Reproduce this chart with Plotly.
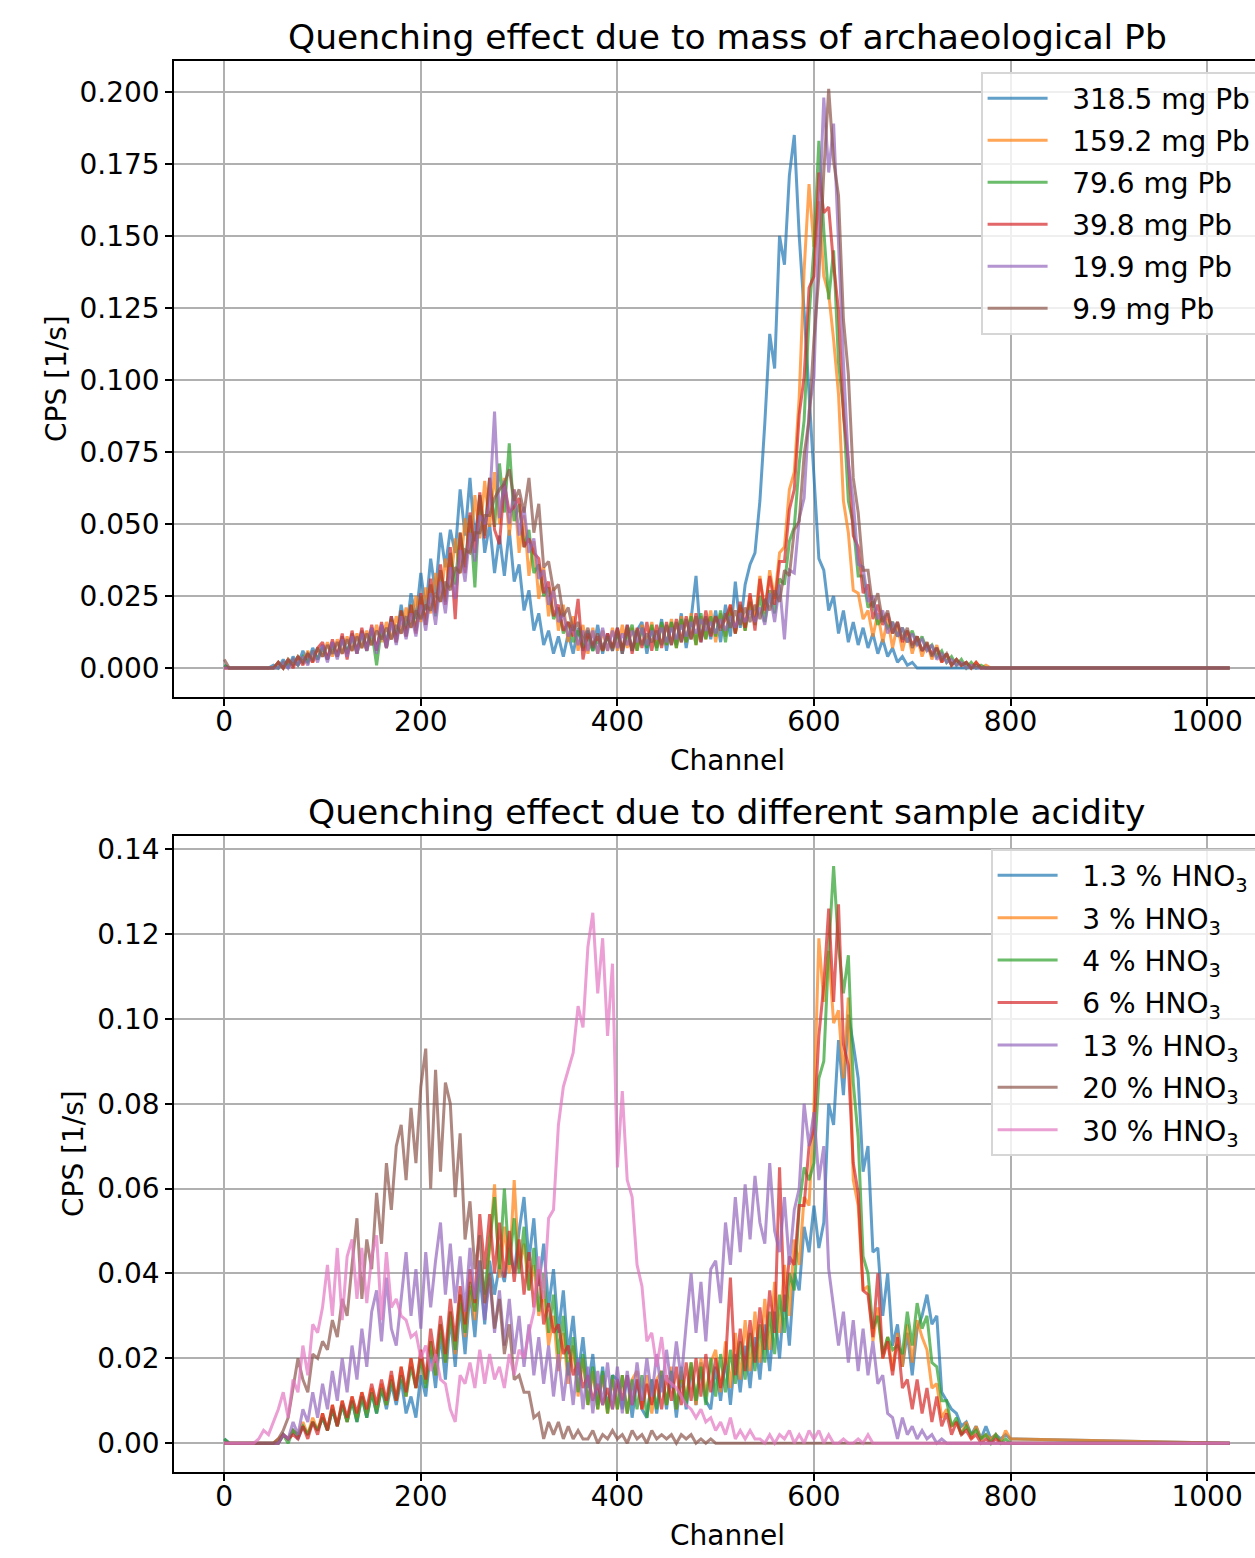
import plotly.graph_objects as go

W, H = 1255, 1558

# ---------------- data ----------------
channels = list(range(0, 805, 5)) + [1023]

# Top panel: mass of archaeological Pb
pb_318_5 = [
    0.001, 0, 0, 0, 0, 0, 0, 0, 0, 0,
    0.001, 0, 0.003, 0, 0.004, 0.001, 0.006, 0.002, 0.007, 0.003,
    0.008, 0.003, 0.009, 0.004, 0.011, 0.005, 0.012, 0.006, 0.013, 0.007,
    0.014, 0.006, 0.015, 0.009, 0.018, 0.010, 0.022, 0.012, 0.026, 0.017,
    0.033, 0.020, 0.038, 0.026, 0.047, 0.035, 0.048, 0.040, 0.062, 0.046,
    0.066, 0.044, 0.060, 0.040, 0.050, 0.033, 0.046, 0.032, 0.048, 0.030,
    0.036, 0.020, 0.027, 0.013, 0.019, 0.008, 0.013, 0.005, 0.011, 0.004,
    0.012, 0.005, 0.014, 0.006, 0.013, 0.006, 0.015, 0.005, 0.012, 0.006,
    0.014, 0.005, 0.015, 0.006, 0.013, 0.016, 0.005, 0.014, 0.007, 0.017,
    0.006, 0.016, 0.008, 0.019, 0.007, 0.017, 0.032, 0.009, 0.018, 0.010,
    0.020, 0.009, 0.022, 0.011, 0.030, 0.014, 0.029, 0.036, 0.040, 0.058,
    0.085, 0.116, 0.104, 0.150, 0.140, 0.171, 0.185, 0.150, 0.124, 0.094,
    0.066, 0.038, 0.034, 0.020, 0.025, 0.012, 0.020, 0.009, 0.016, 0.008,
    0.014, 0.007, 0.012, 0.005, 0.010, 0.004, 0.007, 0.002, 0.004, 0.001,
    0.002, 0, 0, 0, 0, 0, 0, 0, 0, 0,
    0, 0, 0, 0, 0, 0, 0, 0, 0, 0,
    0, 0,
]
pb_159_2 = [
    0, 0, 0, 0, 0, 0, 0, 0, 0, 0,
    0, 0.002, 0, 0.003, 0.001, 0.004, 0.002, 0.006, 0.002, 0.007,
    0.004, 0.009, 0.004, 0.010, 0.005, 0.011, 0.006, 0.012, 0.007, 0.013,
    0.008, 0.015, 0.009, 0.016, 0.010, 0.018, 0.012, 0.021, 0.014, 0.025,
    0.016, 0.028, 0.019, 0.033, 0.023, 0.038, 0.028, 0.045, 0.033, 0.052,
    0.040, 0.060, 0.045, 0.065, 0.049, 0.068, 0.050, 0.066, 0.046, 0.062,
    0.040, 0.053, 0.032, 0.044, 0.024, 0.035, 0.018, 0.028, 0.013, 0.022,
    0.009, 0.018, 0.006, 0.015, 0.005, 0.014, 0.005, 0.013, 0.006, 0.014,
    0.006, 0.015, 0.007, 0.014, 0.006, 0.015, 0.008, 0.016, 0.007, 0.015,
    0.008, 0.017, 0.007, 0.018, 0.009, 0.019, 0.008, 0.018, 0.010, 0.020,
    0.009, 0.019, 0.011, 0.022, 0.012, 0.021, 0.013, 0.025, 0.016, 0.032,
    0.019, 0.034, 0.024, 0.040, 0.042, 0.062, 0.068, 0.094, 0.138, 0.168,
    0.146, 0.162, 0.136, 0.130, 0.114, 0.095, 0.058, 0.047, 0.027, 0.026,
    0.017, 0.020, 0.011, 0.019, 0.009, 0.017, 0.007, 0.015, 0.006, 0.013,
    0.005, 0.011, 0.004, 0.009, 0.003, 0.008, 0.002, 0.005, 0.001, 0.003,
    0.001, 0.002, 0, 0.002, 0, 0.001, 0, 0, 0, 0,
    0, 0,
]
pb_79_6 = [
    0.001, 0, 0, 0, 0, 0, 0, 0, 0, 0,
    0, 0, 0.002, 0.001, 0.003, 0.001, 0.004, 0.002, 0.006, 0.003,
    0.007, 0.003, 0.008, 0.004, 0.010, 0.005, 0.011, 0.005, 0.012, 0.006,
    0.013, 0.001, 0.014, 0.007, 0.017, 0.009, 0.020, 0.011, 0.022, 0.013,
    0.025, 0.015, 0.029, 0.018, 0.034, 0.023, 0.040, 0.029, 0.047, 0.035,
    0.053, 0.028, 0.060, 0.046, 0.066, 0.049, 0.071, 0.054, 0.078, 0.051,
    0.057, 0.042, 0.048, 0.033, 0.036, 0.025, 0.028, 0.017, 0.021, 0.012,
    0.016, 0.009, 0.013, 0.007, 0.011, 0.006, 0.010, 0.006, 0.011, 0.007,
    0.012, 0.007, 0.011, 0.015, 0.006, 0.014, 0.007, 0.015, 0.006, 0.016,
    0.008, 0.016, 0.007, 0.017, 0.009, 0.018, 0.008, 0.019, 0.010, 0.018,
    0.011, 0.020, 0.009, 0.021, 0.012, 0.022, 0.013, 0.023, 0.015, 0.025,
    0.016, 0.027, 0.019, 0.031, 0.029, 0.044, 0.049, 0.071, 0.086, 0.122,
    0.146, 0.183, 0.152, 0.128, 0.145, 0.106, 0.090, 0.058, 0.050, 0.032,
    0.032, 0.021, 0.023, 0.015, 0.018, 0.014, 0.016, 0.011, 0.014, 0.009,
    0.013, 0.008, 0.011, 0.006, 0.008, 0.004, 0.006, 0.002, 0.004, 0.001,
    0.003, 0, 0.002, 0, 0.001, 0, 0, 0, 0, 0,
    0, 0,
]
pb_39_8 = [
    0, 0, 0, 0, 0, 0, 0, 0, 0, 0,
    0, 0.002, 0, 0.003, 0, 0.004, 0.001, 0.005, 0.002, 0.007,
    0.009, 0.003, 0.010, 0.004, 0.012, 0.003, 0.013, 0.005, 0.014, 0.006,
    0.015, 0.006, 0.016, 0.007, 0.018, 0.009, 0.020, 0.011, 0.022, 0.012,
    0.026, 0.015, 0.031, 0.019, 0.036, 0.022, 0.042, 0.017, 0.047, 0.033,
    0.054, 0.040, 0.061, 0.045, 0.066, 0.048, 0.043, 0.064, 0.054, 0.056,
    0.059, 0.042, 0.045, 0.040, 0.038, 0.026, 0.030, 0.018, 0.022, 0.013,
    0.016, 0.011, 0.024, 0.003, 0.012, 0.008, 0.011, 0.006, 0.012, 0.007,
    0.014, 0.006, 0.015, 0.005, 0.014, 0.007, 0.016, 0.006, 0.015, 0.007,
    0.016, 0.008, 0.017, 0.009, 0.018, 0.010, 0.019, 0.009, 0.020, 0.011,
    0.018, 0.014, 0.017, 0.022, 0.012, 0.023, 0.014, 0.026, 0.013, 0.031,
    0.020, 0.032, 0.022, 0.037, 0.037, 0.055, 0.062, 0.088, 0.101, 0.132,
    0.136, 0.172, 0.158, 0.160, 0.140, 0.124, 0.088, 0.072, 0.046, 0.042,
    0.026, 0.029, 0.017, 0.022, 0.015, 0.019, 0.012, 0.016, 0.009, 0.013,
    0.008, 0.011, 0.006, 0.008, 0.005, 0.007, 0.002, 0.005, 0.001, 0.003,
    0.001, 0.002, 0, 0.002, 0, 0, 0, 0, 0, 0,
    0, 0,
]
pb_19_9 = [
    0, 0, 0, 0, 0, 0, 0, 0, 0, 0,
    0, 0, 0.002, 0, 0.003, 0.001, 0.004, 0.001, 0.006, 0.002,
    0.008, 0.002, 0.009, 0.003, 0.010, 0.004, 0.011, 0.005, 0.012, 0.006,
    0.014, 0.005, 0.015, 0.007, 0.016, 0.008, 0.018, 0.010, 0.019, 0.011,
    0.022, 0.013, 0.026, 0.015, 0.030, 0.019, 0.035, 0.024, 0.041, 0.030,
    0.047, 0.037, 0.053, 0.050, 0.057, 0.089, 0.052, 0.065, 0.050, 0.062,
    0.046, 0.056, 0.040, 0.045, 0.031, 0.034, 0.022, 0.027, 0.016, 0.019,
    0.011, 0.015, 0.008, 0.013, 0.006, 0.013, 0.005, 0.014, 0.006, 0.013,
    0.007, 0.012, 0.008, 0.013, 0.009, 0.014, 0.008, 0.013, 0.010, 0.014,
    0.009, 0.014, 0.010, 0.015, 0.011, 0.016, 0.012, 0.017, 0.013, 0.016,
    0.012, 0.017, 0.013, 0.018, 0.014, 0.019, 0.016, 0.020, 0.016, 0.021,
    0.015, 0.026, 0.016, 0.029, 0.010, 0.034, 0.033, 0.052, 0.059, 0.089,
    0.101, 0.154, 0.198, 0.172, 0.189, 0.146, 0.106, 0.071, 0.058, 0.036,
    0.035, 0.023, 0.025, 0.017, 0.020, 0.012, 0.016, 0.011, 0.014, 0.009,
    0.012, 0.008, 0.010, 0.006, 0.008, 0.003, 0.005, 0.002, 0.003, 0.001,
    0.002, 0, 0.001, 0, 0, 0, 0, 0, 0, 0,
    0, 0,
]
pb_9_9 = [
    0.003, 0, 0, 0, 0, 0, 0, 0, 0, 0,
    0, 0.002, 0, 0.003, 0.001, 0.004, 0.002, 0.005, 0.003, 0.007,
    0.004, 0.008, 0.005, 0.009, 0.005, 0.010, 0.006, 0.011, 0.007, 0.012,
    0.008, 0.013, 0.010, 0.014, 0.010, 0.015, 0.012, 0.018, 0.014, 0.020,
    0.017, 0.022, 0.020, 0.026, 0.023, 0.030, 0.027, 0.035, 0.033, 0.041,
    0.040, 0.047, 0.047, 0.053, 0.053, 0.059, 0.062, 0.064, 0.069, 0.058,
    0.062, 0.054, 0.066, 0.047, 0.057, 0.035, 0.037, 0.027, 0.029, 0.018,
    0.021, 0.013, 0.016, 0.009, 0.014, 0.007, 0.012, 0.007, 0.011, 0.006,
    0.013, 0.005, 0.014, 0.006, 0.013, 0.008, 0.012, 0.009, 0.013, 0.008,
    0.015, 0.008, 0.016, 0.009, 0.017, 0.010, 0.018, 0.010, 0.017, 0.012,
    0.018, 0.013, 0.019, 0.014, 0.020, 0.015, 0.021, 0.016, 0.022, 0.017,
    0.024, 0.020, 0.027, 0.023, 0.034, 0.032, 0.048, 0.051, 0.074, 0.086,
    0.114, 0.136, 0.172, 0.201, 0.176, 0.164, 0.121, 0.102, 0.066, 0.054,
    0.034, 0.034, 0.021, 0.026, 0.016, 0.020, 0.012, 0.016, 0.010, 0.014,
    0.007, 0.011, 0.006, 0.009, 0.004, 0.007, 0.003, 0.005, 0.001, 0.003,
    0.001, 0.002, 0, 0.001, 0, 0, 0, 0, 0, 0,
    0, 0,
]

# Bottom panel: sample acidity
acid_1_3 = [
    0.001, 0, 0, 0, 0, 0, 0, 0, 0, 0,
    0, 0, 0.002, 0.001, 0.003, 0.001, 0.004, 0.002, 0.005, 0.003,
    0.006, 0.003, 0.008, 0.004, 0.009, 0.005, 0.010, 0.005, 0.011, 0.006,
    0.012, 0.007, 0.013, 0.008, 0.014, 0.009, 0.015, 0.007, 0.011, 0.006,
    0.016, 0.011, 0.022, 0.013, 0.026, 0.015, 0.030, 0.018, 0.033, 0.021,
    0.036, 0.025, 0.040, 0.028, 0.043, 0.035, 0.042, 0.038, 0.046, 0.040,
    0.050, 0.058, 0.043, 0.053, 0.037, 0.047, 0.032, 0.041, 0.026, 0.036,
    0.021, 0.030, 0.016, 0.025, 0.013, 0.021, 0.009, 0.018, 0.008, 0.016,
    0.015, 0.008, 0.016, 0.006, 0.015, 0.008, 0.006, 0.015, 0.007, 0.016,
    0.008, 0.017, 0.006, 0.016, 0.008, 0.018, 0.009, 0.019, 0.010, 0.008,
    0.018, 0.010, 0.020, 0.009, 0.021, 0.012, 0.023, 0.013, 0.025, 0.015,
    0.028, 0.017, 0.031, 0.020, 0.035, 0.023, 0.040, 0.036, 0.051, 0.045,
    0.056, 0.046, 0.052, 0.080, 0.075, 0.095, 0.082, 0.101, 0.094, 0.086,
    0.064, 0.070, 0.045, 0.046, 0.030, 0.040, 0.023, 0.028, 0.018, 0.026,
    0.016, 0.027, 0.030, 0.035, 0.028, 0.030, 0.012, 0.010, 0.008, 0.007,
    0.004, 0.005, 0.002, 0.004, 0.001, 0.004, 0.001, 0.002, 0.001, 0.002,
    0.001, 0,
]
acid_3 = [
    0, 0, 0, 0, 0, 0, 0, 0, 0, 0,
    0, 0.001, 0.002, 0.001, 0.003, 0.002, 0.005, 0.002, 0.006, 0.003,
    0.007, 0.003, 0.009, 0.004, 0.010, 0.005, 0.011, 0.006, 0.012, 0.007,
    0.013, 0.008, 0.014, 0.009, 0.016, 0.010, 0.018, 0.011, 0.020, 0.013,
    0.021, 0.014, 0.024, 0.016, 0.028, 0.019, 0.031, 0.021, 0.035, 0.025,
    0.037, 0.029, 0.043, 0.033, 0.046, 0.061, 0.039, 0.051, 0.040, 0.062,
    0.041, 0.047, 0.036, 0.042, 0.030, 0.036, 0.023, 0.030, 0.017, 0.026,
    0.014, 0.023, 0.011, 0.020, 0.009, 0.017, 0.008, 0.016, 0.007, 0.015,
    0.008, 0.016, 0.007, 0.015, 0.017, 0.008, 0.016, 0.007, 0.015, 0.017,
    0.009, 0.018, 0.008, 0.017, 0.010, 0.019, 0.009, 0.020, 0.011, 0.019,
    0.022, 0.012, 0.024, 0.013, 0.026, 0.015, 0.029, 0.017, 0.031, 0.019,
    0.034, 0.022, 0.038, 0.026, 0.042, 0.030, 0.048, 0.042, 0.058, 0.056,
    0.079, 0.119, 0.104, 0.116, 0.099, 0.102, 0.086, 0.105, 0.062, 0.056,
    0.036, 0.037, 0.024, 0.032, 0.020, 0.025, 0.017, 0.026, 0.018, 0.028,
    0.019, 0.029, 0.025, 0.022, 0.013, 0.014, 0.006, 0.008, 0.004, 0.005,
    0.002, 0.005, 0.001, 0.004, 0.001, 0.002, 0.001, 0.002, 0, 0.003,
    0.001, 0,
]
acid_4 = [
    0.001, 0, 0, 0, 0, 0, 0, 0, 0, 0,
    0, 0, 0.002, 0, 0.003, 0.002, 0.004, 0.002, 0.005, 0.003,
    0.006, 0.003, 0.008, 0.004, 0.009, 0.005, 0.010, 0.005, 0.011, 0.006,
    0.012, 0.007, 0.013, 0.009, 0.015, 0.010, 0.016, 0.011, 0.018, 0.013,
    0.020, 0.013, 0.024, 0.016, 0.028, 0.019, 0.031, 0.022, 0.035, 0.026,
    0.038, 0.031, 0.043, 0.035, 0.047, 0.058, 0.041, 0.060, 0.042, 0.053,
    0.040, 0.051, 0.036, 0.046, 0.031, 0.040, 0.026, 0.035, 0.021, 0.030,
    0.016, 0.025, 0.012, 0.021, 0.009, 0.018, 0.008, 0.017, 0.007, 0.016,
    0.008, 0.016, 0.007, 0.015, 0.008, 0.016, 0.006, 0.015, 0.008, 0.017,
    0.009, 0.017, 0.008, 0.018, 0.009, 0.019, 0.010, 0.018, 0.009, 0.020,
    0.011, 0.021, 0.012, 0.022, 0.014, 0.024, 0.015, 0.026, 0.017, 0.028,
    0.019, 0.031, 0.021, 0.035, 0.026, 0.040, 0.036, 0.056, 0.065, 0.062,
    0.066, 0.086, 0.090, 0.116, 0.136, 0.117, 0.106, 0.115, 0.085, 0.072,
    0.044, 0.040, 0.027, 0.030, 0.021, 0.025, 0.022, 0.023, 0.021, 0.031,
    0.023, 0.033, 0.027, 0.030, 0.019, 0.018, 0.010, 0.010, 0.004, 0.006,
    0.002, 0.004, 0.002, 0.003, 0.001, 0.002, 0, 0.002, 0, 0.001,
    0, 0,
]
acid_6 = [
    0, 0, 0, 0, 0, 0, 0, 0, 0, 0,
    0, 0, 0.002, 0.001, 0.002, 0.001, 0.004, 0.001, 0.005, 0.002,
    0.007, 0.003, 0.009, 0.004, 0.010, 0.006, 0.011, 0.007, 0.012, 0.008,
    0.014, 0.009, 0.015, 0.010, 0.017, 0.010, 0.018, 0.012, 0.020, 0.013,
    0.022, 0.015, 0.027, 0.019, 0.030, 0.021, 0.034, 0.024, 0.037, 0.028,
    0.041, 0.033, 0.054, 0.041, 0.054, 0.040, 0.052, 0.039, 0.050, 0.038,
    0.048, 0.035, 0.045, 0.032, 0.041, 0.028, 0.033, 0.026, 0.028, 0.021,
    0.023, 0.016, 0.019, 0.013, 0.016, 0.010, 0.014, 0.009, 0.013, 0.008,
    0.015, 0.010, 0.016, 0.009, 0.015, 0.008, 0.014, 0.009, 0.015, 0.008,
    0.016, 0.010, 0.018, 0.009, 0.019, 0.010, 0.020, 0.011, 0.021, 0.012,
    0.020, 0.013, 0.019, 0.039, 0.016, 0.027, 0.017, 0.029, 0.019, 0.032,
    0.022, 0.036, 0.026, 0.065, 0.031, 0.044, 0.042, 0.056, 0.056, 0.070,
    0.074, 0.096, 0.108, 0.126, 0.104, 0.127, 0.094, 0.089, 0.066, 0.059,
    0.036, 0.035, 0.025, 0.040, 0.020, 0.024, 0.016, 0.025, 0.013, 0.015,
    0.008, 0.015, 0.007, 0.013, 0.005, 0.011, 0.004, 0.007, 0.002, 0.005,
    0.002, 0.003, 0.001, 0.002, 0, 0.001, 0, 0.001, 0, 0,
    0, 0,
]
acid_13 = [
    0, 0, 0, 0, 0, 0, 0, 0, 0, 0,
    0, 0, 0.002, 0.001, 0.005, 0.002, 0.008, 0.005, 0.012, 0.006,
    0.014, 0.008, 0.017, 0.010, 0.020, 0.012, 0.023, 0.015, 0.027, 0.018,
    0.031, 0.036, 0.024, 0.039, 0.027, 0.023, 0.034, 0.045, 0.030, 0.041,
    0.027, 0.045, 0.032, 0.043, 0.052, 0.035, 0.047, 0.033, 0.044, 0.031,
    0.046, 0.034, 0.043, 0.029, 0.039, 0.026, 0.036, 0.023, 0.034, 0.021,
    0.030, 0.018, 0.028, 0.016, 0.025, 0.014, 0.023, 0.011, 0.021, 0.010,
    0.019, 0.009, 0.020, 0.008, 0.018, 0.007, 0.017, 0.009, 0.019, 0.008,
    0.018, 0.007, 0.017, 0.009, 0.019, 0.010, 0.020, 0.011, 0.021, 0.012,
    0.022, 0.013, 0.024, 0.015, 0.028, 0.040, 0.026, 0.038, 0.024, 0.041,
    0.043, 0.033, 0.052, 0.042, 0.058, 0.045, 0.061, 0.048, 0.063, 0.052,
    0.047, 0.066, 0.050, 0.045, 0.058, 0.042, 0.055, 0.060, 0.080, 0.070,
    0.078, 0.062, 0.070, 0.041, 0.032, 0.023, 0.031, 0.019, 0.029, 0.017,
    0.027, 0.016, 0.024, 0.014, 0.016, 0.007, 0.006, 0.001, 0.006, 0.002,
    0.004, 0.001, 0.003, 0.001, 0.002, 0, 0.001, 0, 0, 0,
    0, 0, 0, 0, 0, 0, 0, 0, 0, 0,
    0, 0,
]
acid_20 = [
    0, 0, 0, 0, 0, 0, 0, 0, 0, 0,
    0, 0.001, 0.003, 0.006, 0.013, 0.020, 0.015, 0.012, 0.021, 0.020,
    0.024, 0.022, 0.029, 0.025, 0.034, 0.030, 0.042, 0.053, 0.034, 0.048,
    0.041, 0.059, 0.047, 0.066, 0.055, 0.070, 0.075, 0.062, 0.079, 0.066,
    0.084, 0.093, 0.060, 0.088, 0.064, 0.085, 0.080, 0.058, 0.073, 0.048,
    0.057, 0.041, 0.049, 0.033, 0.040, 0.027, 0.034, 0.021, 0.028, 0.015,
    0.016, 0.012, 0.012, 0.006, 0.007, 0.001, 0.005, 0.002, 0.005, 0.001,
    0.004, 0.001, 0.003, 0.001, 0.001, 0.003, 0, 0.002, 0.001, 0.003,
    0.001, 0.002, 0, 0.003, 0.001, 0.002, 0, 0.003, 0.001, 0.002,
    0.001, 0.002, 0, 0.002, 0.001, 0.002, 0, 0.001, 0, 0.001,
    0, 0, 0, 0, 0, 0, 0, 0, 0, 0,
    0, 0, 0, 0, 0, 0, 0, 0, 0, 0,
    0, 0, 0, 0, 0, 0, 0, 0, 0, 0,
    0, 0, 0, 0, 0, 0, 0, 0, 0, 0,
    0, 0, 0, 0, 0, 0, 0, 0, 0, 0,
    0, 0, 0, 0, 0, 0, 0, 0, 0, 0,
    0, 0,
]
acid_30 = [
    0, 0, 0, 0, 0, 0, 0, 0.001, 0.003, 0.002,
    0.005, 0.008, 0.012, 0.006, 0.015, 0.012, 0.023, 0.016, 0.028, 0.026,
    0.032, 0.042, 0.030, 0.046, 0.029, 0.044, 0.048, 0.034, 0.046, 0.033,
    0.044, 0.049, 0.029, 0.045, 0.032, 0.034, 0.030, 0.029, 0.025, 0.026,
    0.020, 0.023, 0.017, 0.021, 0.015, 0.014, 0.008, 0.005, 0.016, 0.014,
    0.019, 0.013, 0.022, 0.014, 0.021, 0.015, 0.018, 0.013, 0.021, 0.016,
    0.022, 0.020, 0.026, 0.031, 0.044, 0.034, 0.053, 0.055, 0.075, 0.084,
    0.088, 0.092, 0.103, 0.098, 0.117, 0.125, 0.106, 0.119, 0.096, 0.113,
    0.065, 0.083, 0.062, 0.058, 0.042, 0.037, 0.024, 0.026, 0.018, 0.025,
    0.015, 0.014, 0.013, 0.011, 0.009, 0.008, 0.006, 0.008, 0.005, 0.006,
    0.003, 0.005, 0.002, 0.006, 0.001, 0.003, 0.001, 0.003, 0.001, 0.001,
    0, 0.002, 0, 0.002, 0.001, 0.003, 0, 0.002, 0, 0.003,
    0.001, 0.003, 0, 0.002, 0, 0, 0.001, 0, 0, 0.001,
    0, 0.002, 0, 0, 0, 0, 0, 0, 0, 0,
    0, 0, 0, 0, 0, 0, 0, 0, 0, 0,
    0, 0, 0, 0, 0, 0, 0, 0, 0, 0,
    0, 0,
]

top_series = [pb_318_5, pb_159_2, pb_79_6, pb_39_8, pb_19_9, pb_9_9]
top_labels = ["318.5 mg Pb", "159.2 mg Pb", "79.6 mg Pb", "39.8 mg Pb",
              "19.9 mg Pb", "9.9 mg Pb"]
bottom_series = [acid_1_3, acid_3, acid_4, acid_6, acid_13, acid_20, acid_30]
bottom_labels = ["1.3 % HNO<sub>3</sub>", "3 % HNO<sub>3</sub>",
                 "4 % HNO<sub>3</sub>", "6 % HNO<sub>3</sub>",
                 "13 % HNO<sub>3</sub>", "20 % HNO<sub>3</sub>",
                 "30 % HNO<sub>3</sub>"]

top_yticks = [0.0, 0.025, 0.05, 0.075, 0.1, 0.125, 0.15, 0.175, 0.2]
bottom_yticks = [0.0, 0.02, 0.04, 0.06, 0.08, 0.10, 0.12, 0.14]
xticks = [0, 200, 400, 600, 800, 1000]

colors = ["#1f77b4", "#ff7f0e", "#2ca02c", "#d62728", "#9467bd",
          "#8c564b", "#e377c2"]

for s in top_series + bottom_series:
    assert len(s) == len(channels), len(s)

# ---------------- figure ----------------
FONT = "DejaVu Sans"
PAD = "\u2002\u2009"      # gap between legend handle and label
TAIL = "\u2002\u2002"     # legend box runs past the figure edge, as in the original


def px_x(p):
    return p / W


def px_y(p):
    return 1 - p / H


fig = go.Figure()
for i, (vals, lab) in enumerate(zip(top_series, top_labels)):
    fig.add_trace(go.Scatter(
        x=channels, y=vals, mode="lines", name=PAD + lab,
        line=dict(color=colors[i], width=3), opacity=0.7,
        xaxis="x", yaxis="y", legend="legend", legendgroup=f"t{i}",
        hoverinfo="skip"))
for i, (vals, lab) in enumerate(zip(bottom_series, bottom_labels)):
    fig.add_trace(go.Scatter(
        x=channels, y=vals, mode="lines", name=PAD + lab + TAIL,
        line=dict(color=colors[i], width=3), opacity=0.7,
        xaxis="x2", yaxis="y2", legend="legend2", legendgroup=f"b{i}",
        hoverinfo="skip"))

axis_common = dict(
    showline=True, linecolor="black", linewidth=1.6,
    ticks="outside", ticklen=7, tickwidth=1.6, tickcolor="black",
    showgrid=True, gridcolor="#b0b0b0", gridwidth=1.6, zeroline=False,
    tickfont=dict(family=FONT, size=28, color="black"),
)

x_range = [-51.15, -51.15 + (W - 174) / 0.9828]
x_domain = [174 / W, 1.0]

legend_common = dict(
    xanchor="left", yanchor="top",
    bgcolor="rgba(255,255,255,0.8)", bordercolor="#d6d6d6", borderwidth=1.6,
    font=dict(family=FONT, size=28, color="black"),
    itemwidth=60,
)

fig.update_layout(
    width=W, height=H,
    margin=dict(l=0, r=0, t=0, b=0, autoexpand=False),
    paper_bgcolor="white", plot_bgcolor="white",
    font=dict(family=FONT, size=28, color="black"),
    showlegend=True,
    xaxis=dict(axis_common, domain=x_domain, range=x_range, anchor="y",
               tickvals=xticks, mirror=True, ticklabelstandoff=-8),
    yaxis=dict(axis_common, domain=[px_y(697), px_y(61)],
               range=[-0.01003, 0.2107], anchor="x",
               tickvals=top_yticks, tickformat=".3f"),
    xaxis2=dict(axis_common, domain=x_domain, range=x_range, anchor="y2",
                tickvals=xticks, mirror=True, ticklabelstandoff=-8),
    yaxis2=dict(axis_common, domain=[px_y(1472), px_y(836)],
                range=[-0.0068, 0.1431], anchor="x2",
                tickvals=bottom_yticks, tickformat=".2f"),
    legend=dict(legend_common, x=px_x(981), y=px_y(72), tracegroupgap=2.6),
    legend2=dict(legend_common, x=px_x(991), y=px_y(849), tracegroupgap=3),
)

ann_common = dict(xref="paper", yref="paper", showarrow=False,
                  xanchor="center", yanchor="middle")
annotations = [
    dict(ann_common, text="Quenching effect due to mass of archaeological Pb",
         x=px_x(727), y=px_y(37), font=dict(family=FONT, size=34.5, color="black")),
    dict(ann_common, text="Quenching effect due to different sample acidity",
         x=px_x(727), y=px_y(812), font=dict(family=FONT, size=34.5, color="black")),
    dict(ann_common, text="Channel", x=px_x(727), y=px_y(760),
         font=dict(family=FONT, size=28, color="black")),
    dict(ann_common, text="Channel", x=px_x(727), y=px_y(1535),
         font=dict(family=FONT, size=28, color="black")),
    dict(ann_common, text="CPS [1/s]", x=px_x(56), y=px_y(379), textangle=-90,
         font=dict(family=FONT, size=28, color="black")),
    dict(ann_common, text="CPS [1/s]", x=px_x(73), y=px_y(1154), textangle=-90,
         font=dict(family=FONT, size=28, color="black")),
]
fig.update_layout(annotations=annotations)

fig.write_html("out.html", config={"displayModeBar": False},
               post_script="document.body.style.margin='0px';")
